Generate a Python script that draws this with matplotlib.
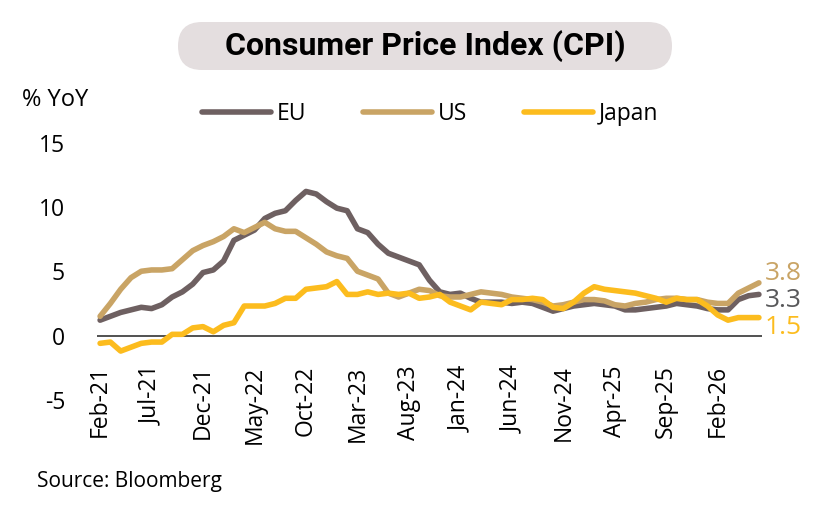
import numpy as np
import pandas as pd
import matplotlib
matplotlib.use("Agg")
import matplotlib.pyplot as plt
from matplotlib.patches import FancyBboxPatch

# monthly CPI, % YoY, Feb-21 .. Jun-26
months = pd.date_range("2021-02-01", periods=65, freq="MS")
eu = [1.2, 1.5, 1.8, 2.0, 2.2, 2.1, 2.4, 3.0, 3.4, 4.0,
      4.9, 5.1, 5.8, 7.4, 7.8, 8.2, 9.1, 9.5, 9.7, 10.5,
      11.2, 11.0, 10.4, 9.9, 9.7, 8.3, 8.0, 7.1, 6.4, 6.1,
      5.8, 5.5, 4.3, 3.4, 3.2, 3.3, 2.9, 2.6, 2.6, 2.6,
      2.5, 2.6, 2.5, 2.2, 1.9, 2.1, 2.3, 2.4, 2.5, 2.4,
      2.3, 2.0, 2.0, 2.1, 2.2, 2.3, 2.5, 2.4, 2.3, 2.1,
      2.0, 2.0, 2.8, 3.1, 3.2]
us = [1.5, 2.5, 3.6, 4.5, 5.0, 5.1, 5.1, 5.2, 5.9, 6.6,
      7.0, 7.3, 7.7, 8.3, 8.0, 8.4, 8.8, 8.3, 8.1, 8.1,
      7.6, 7.1, 6.5, 6.2, 6.0, 5.0, 4.7, 4.4, 3.3, 3.0,
      3.3, 3.6, 3.5, 3.1, 3.0, 3.0, 3.2, 3.4, 3.3, 3.2,
      3.0, 2.9, 2.8, 2.6, 2.3, 2.4, 2.6, 2.8, 2.8, 2.7,
      2.4, 2.3, 2.5, 2.6, 2.8, 2.9, 2.9, 2.8, 2.8, 2.6,
      2.5, 2.5, 3.3, 3.7, 4.1]
japan = [-0.6, -0.5, -1.2, -0.9, -0.6, -0.5, -0.5, 0.1, 0.1, 0.6,
         0.7, 0.3, 0.8, 1.0, 2.3, 2.3, 2.3, 2.5, 2.9, 2.9,
         3.6, 3.7, 3.8, 4.2, 3.2, 3.2, 3.4, 3.2, 3.3, 3.2,
         3.3, 2.9, 3.0, 3.2, 2.6, 2.3, 2.0, 2.6, 2.5, 2.4,
         2.8, 2.8, 2.9, 2.8, 2.2, 2.1, 2.6, 3.3, 3.8, 3.6,
         3.5, 3.4, 3.3, 3.1, 2.9, 2.6, 2.9, 2.8, 2.8, 2.3,
         1.6, 1.2, 1.4, 1.4, 1.4]
series_names = ["EU", "US", "Japan"]
end_labels = ["3.3", "3.8", "1.5"]
y_ticks = [-5, 0, 5, 10, 15]

COLORS = {"EU": "#6e6061", "US": "#c9a465", "Japan": "#fcbc1e"}
LABEL_COLORS = {"EU": "#58585a", "US": "#c9a465", "Japan": "#fcbc1e"}
FONT = ["Open Sans", "DejaVu Sans"]
plt.rcParams["font.family"] = FONT

W, H = 840, 515
fig = plt.figure(figsize=(W / 100, H / 100), dpi=100)

# background layer in pixel coords for the rounded title box
bg = fig.add_axes([0, 0, 1, 1], zorder=-1)
bg.set_xlim(0, W)
bg.set_ylim(H, 0)
bg.axis("off")
bg.add_patch(FancyBboxPatch((178, 22), 494, 48, boxstyle="round,pad=0,rounding_size=24",
                            fc="#e4dedf", ec="none"))
fig.text(425 / W, 1 - 46 / H, "Consumer Price Index (CPI)", ha="center", va="center",
         fontsize=23, fontweight="bold", family=["Roboto", "DejaVu Sans"])

ax = fig.add_axes([97 / W, 1 - 400 / H, (762 - 97) / W, (400 - 142.5) / H])
x = np.arange(len(months))
for name, vals in zip(series_names, [eu, us, japan]):
    ax.plot(x, vals, color=COLORS[name], lw=4.0, label=name, solid_capstyle="round",
            solid_joinstyle="round")
ax.axhline(0, color="#222222", lw=1.1, zorder=0)

ax.set_xlim(-0.3, 64.3)
ax.set_ylim(-5, 15)
ax.set_yticks(y_ticks)
ax.set_yticklabels([str(v) for v in y_ticks], fontsize=16.5)
tick_idx = list(range(0, len(months), 5))
ax.set_xticks(tick_idx)
ax.set_xticklabels([months[i].strftime("%b-%y") for i in tick_idx], rotation=90, fontsize=16.5)
ax.tick_params(axis="y", length=0, pad=23)
ax.tick_params(axis="x", length=0, pad=-25)
for s in ax.spines.values():
    s.set_visible(False)

# end-of-series value labels
for name, txt, ypos in zip(series_names, end_labels, [2.7, 4.8, 0.6]):
    ax.text(64.55, ypos, txt, color=LABEL_COLORS[name], fontsize=19, ha="left", va="center",
            clip_on=False)

fig.text(22 / W, 1 - 100 / H, "% YoY", fontsize=17, ha="left", va="center")
fig.legend(loc="center", bbox_to_anchor=(430 / W, 1 - 114 / H), ncol=3, frameon=False,
           fontsize=16.5, handlelength=3.0, handletextpad=0.25, columnspacing=2.5)
fig.text(37 / W, 1 - 481 / H, "Source: Bloomberg", fontsize=15, ha="left", va="center")

fig.savefig("out.png", dpi=100)
